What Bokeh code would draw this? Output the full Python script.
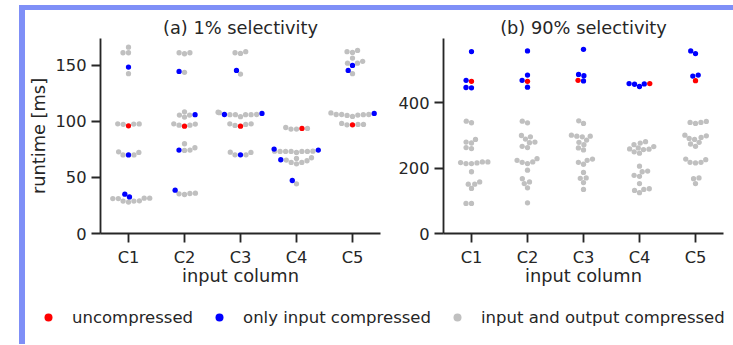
import numpy as np
from bokeh.plotting import figure
from bokeh.models import Range1d, FixedTicker, Legend, LegendItem, Div, Spacer
from bokeh.layouts import row, column
from bokeh.embed import file_html
from bokeh.resources import INLINE

# ---------------- data ----------------
categories = ["C1", "C2", "C3", "C4", "C5"]
series_names = ["uncompressed", "only input compressed", "input and output compressed"]
series_colors = ["#ff0000", "#0000ff", "#c0c0c0"]

# (a) 1% selectivity, runtime [ms]
a_uncompressed = [[96.1], [95.8], [95.8], [93.8], [97.0]]
a_input_only = [
    [148.5, 70.1, 35.1, 32.6],
    [144.6, 106.0, 74.4, 38.7],
    [145.5, 107.1, 106.2, 70.2],
    [75.3, 74.4, 65.8, 47.3],
    [150.0, 145.5, 107.1],
]
a_both = [
    [166.3, 161.3, 161.3, 142.6, 97.9, 97.4, 97.8, 97.6, 72.3, 70.1, 70.1, 72.9,
     31.2, 31.2, 28.9, 31.5, 28.0, 28.9, 29.2, 31.5],
    [161.3, 160.4, 161.3, 143.8, 108.6, 105.7, 103.9, 105.7, 97.9, 96.7, 96.7, 97.6,
     80.1, 76.5, 74.4, 74.1, 35.4, 34.8, 36.0, 35.7],
    [161.3, 160.7, 162.2, 142.3, 108.3, 106.2, 106.0, 106.0, 107.8, 104.2, 106.0, 106.0,
     97.9, 96.4, 97.3, 97.9, 72.3, 70.2, 70.2, 72.6],
    [94.6, 93.2, 93.2, 93.8, 73.5, 73.2, 73.2, 73.2, 72.3, 73.2, 73.2, 73.5,
     67.0, 64.9, 63.4, 62.2, 63.4, 65.5, 67.6, 44.3],
    [162.2, 161.6, 163.4, 156.5, 153.6, 152.0, 152.0, 142.6, 106.2, 106.2, 105.4, 104.5,
     105.7, 106.0, 106.2, 107.6, 98.2, 97.0, 97.3, 97.3],
]

# (b) 90% selectivity
b_uncompressed = [[466], [466], [469], [459], [468]]
b_input_only = [
    [557, 469, 447, 446],
    [559, 485, 469, 448],
    [564, 487, 483, 467],
    [459, 457, 450, 458],
    [559, 551, 485, 482],
]
b_both = [
    [344, 339, 288, 280, 277, 263, 260, 217, 214, 214, 216, 219, 219, 189, 158, 151, 151, 138, 92, 92],
    [344, 339, 300, 296, 289, 280, 278, 267, 263, 224, 218, 229, 214, 219, 194, 168, 158, 153, 140, 94],
    [345, 337, 301, 296, 298, 298, 286, 279, 272, 262, 256, 218, 224, 228, 212, 187, 169, 170, 156, 135],
    [281, 277, 272, 266, 262, 259, 258, 257, 250, 246, 206, 178, 189, 191, 175, 153, 132, 125, 135, 137],
    [340, 337, 340, 343, 299, 301, 294, 291, 288, 279, 274, 267, 226, 228, 218, 216, 218, 170, 168, 153],
]

a_yticks = [0, 50, 100, 150]
b_yticks = [0, 200, 400]

# ---------------- style ----------------
FONT = "DejaVu Sans"
INK = "#262626"
BAR = "#7f8ff7"
FRAME_W, FRAME_H = 280, 195
DOT = 5.3
R_PX = 2.62  # swarm radius in px


def beeswarm(vals, ppu_y, r=R_PX):
    """seaborn-like beeswarm: returns x offsets in pixels."""
    y = np.asarray(vals, dtype=float) * ppu_y
    n = len(y)
    order = np.argsort(y, kind="stable")
    ys = y[order]
    swarm = [(0.0, ys[0], r)]
    for yi in ys[1:]:
        neighbors = []
        for xj, yj, rj in reversed(swarm):
            if yi - yj < r + rj:
                neighbors.append((xj, yj, rj))
            else:
                break
        cands = [(0.0, yi, r)]
        left_first = True
        for xj, yj, rj in neighbors:
            dy = yi - yj
            dx = np.sqrt(max((r + rj) ** 2 - dy ** 2, 0)) * 1.05
            cl, cr = (xj - dx, yi, r), (xj + dx, yi, r)
            cands.extend([cl, cr] if left_first else [cr, cl])
            left_first = not left_first
        cands = np.array(cands)
        cands = cands[np.argsort(np.abs(cands[:, 0]), kind="stable")]
        chosen = cands[0]
        if neighbors:
            nb = np.array(neighbors)
            for c in cands:
                d2 = (nb[:, 0] - c[0]) ** 2 + (nb[:, 1] - c[1]) ** 2
                if np.all(d2 >= (nb[:, 2] + c[2]) ** 2):
                    chosen = c
                    break
        swarm.append(tuple(chosen))
    xs = np.empty(n)
    xs[order] = np.array(swarm)[:, 0]
    return xs


def make_panel(title, groups, ymax, yticks, ylabel, bl, br):
    p = figure(frame_width=FRAME_W, frame_height=FRAME_H,
               x_range=Range1d(-0.5, 4.5), y_range=Range1d(0, ymax),
               output_backend="svg", toolbar_location=None, title=title,
               min_border_left=bl, min_border_right=br,
               min_border_top=28, min_border_bottom=52)
    ppu_x = FRAME_W / 5.0
    ppu_y = FRAME_H / ymax
    pts = {k: ([], []) for k in range(3)}
    for ci in range(len(categories)):
        vals, hues = [], []
        for h, g in enumerate(groups):
            vals += list(g[ci])
            hues += [h] * len(g[ci])
        off = beeswarm(vals, ppu_y) / ppu_x
        off = np.clip(off, -0.4, 0.4)
        for v, hh, o in zip(vals, hues, off):
            pts[hh][0].append(ci + o)
            pts[hh][1].append(v)
    for h in [2, 1, 0]:
        p.scatter(pts[h][0], pts[h][1], size=DOT, fill_color=series_colors[h],
                  line_color=None)

    p.grid.visible = False
    p.outline_line_color = None
    p.title.text_font = FONT
    p.title.text_font_size = "17.8px"
    p.title.text_font_style = "normal"
    p.title.text_color = INK
    p.title.align = "center"
    p.title.standoff = 2

    for ax in (p.xaxis[0], p.yaxis[0]):
        ax.axis_line_color = INK
        ax.axis_line_width = 1.85
        ax.major_tick_line_color = INK
        ax.major_tick_line_width = 1.85
        ax.major_tick_out = 9
        ax.major_tick_in = 0
        ax.minor_tick_line_color = None
        ax.major_label_text_font = FONT
        ax.major_label_text_font_size = "16.3px"
        ax.major_label_text_color = INK
        ax.axis_label_text_font = FONT
        ax.axis_label_text_font_size = "17.8px"
        ax.axis_label_text_font_style = "normal"
        ax.axis_label_text_color = INK

    p.xaxis.ticker = FixedTicker(ticks=list(range(len(categories))))
    p.xaxis.major_label_overrides = {i: c for i, c in enumerate(categories)}
    p.xaxis.axis_label = "input column"
    p.xaxis.major_label_standoff = 5
    p.xaxis.axis_label_standoff = -5
    p.yaxis.ticker = FixedTicker(ticks=yticks)
    p.yaxis.major_label_standoff = 5
    if ylabel:
        p.yaxis.axis_label = ylabel
        p.yaxis.axis_label_standoff = 3
    return p


pa = make_panel("(a) 1% selectivity", [a_uncompressed, a_input_only, a_both],
                174, a_yticks, "runtime [ms]", 75, 15)
pb = make_panel("(b) 90% selectivity", [b_uncompressed, b_input_only, b_both],
                597, b_yticks, None, 48, 2)

# legend strip
fl = figure(width=700, height=52, output_backend="svg", toolbar_location=None,
            x_axis_location=None, y_axis_location=None,
            min_border_left=0, min_border_right=0, min_border_top=0, min_border_bottom=0,
            x_range=Range1d(0, 1), y_range=Range1d(0, 1))
fl.grid.visible = False
fl.outline_line_color = None
rs = [fl.scatter([5], [5], fill_color=c, line_color=None) for c in series_colors]
legend = Legend(items=[LegendItem(label=n, renderers=[r]) for n, r in zip(series_names, rs)],
                orientation="horizontal", location=(13, 13), padding=0, margin=0,
                border_line_color=None, background_fill_alpha=0,
                glyph_width=20, glyph_height=20, label_height=20,
                label_standoff=14, spacing=16,
                label_text_font=FONT, label_text_font_size="16.5px",
                label_text_color=INK)
fl.add_layout(legend)

top_bar = Div(text="", width=714, height=5, margin=0, styles={"background-color": BAR})
left_bar = Div(text="", width=6, height=334, margin=0, styles={"background-color": BAR})

content = column(row(pa, pb), fl)
root = column(Spacer(width=10, height=5),
              row(Spacer(width=19, height=10), column(top_bar, row(left_bar, content))))

open("out.html", "w").write(file_html(root, INLINE))
